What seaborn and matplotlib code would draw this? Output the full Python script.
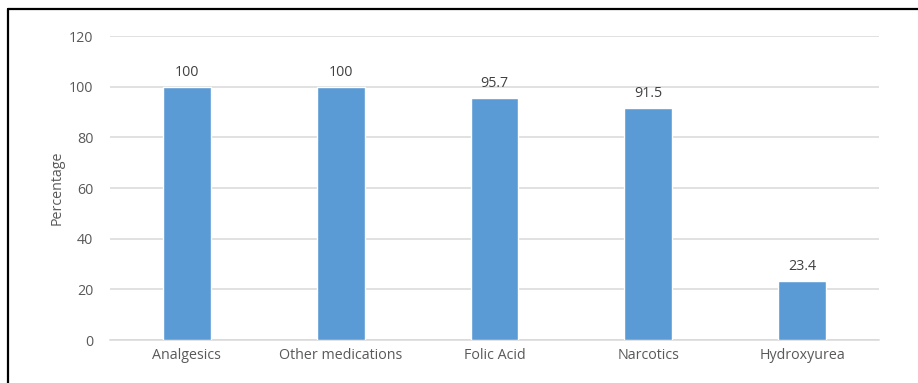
import matplotlib
matplotlib.use("Agg")
import matplotlib.pyplot as plt
import seaborn as sns
import pandas as pd
from matplotlib.lines import Line2D

categories = ["Analgesics", "Other medications", "Folic Acid", "Narcotics", "Hydroxyurea"]
percentages = [100, 100, 95.7, 91.5, 23.4]
value_labels = ["100", "100", "95.7", "91.5", "23.4"]
y_ticks = [0, 20, 40, 60, 80, 100, 120]

df = pd.DataFrame({"Medication": categories, "Percentage": percentages})

sns.set_theme(style="white")
plt.rcParams["font.family"] = ["Open Sans", "DejaVu Sans"]

W, H = 918, 383
fig = plt.figure(figsize=(W / 100, H / 100), dpi=100)
ax = fig.add_axes([110 / W, 43 / H, (879 - 110) / W, (340 - 36) / H])

sns.barplot(data=df, x="Medication", y="Percentage", color="#5B9BD5",
            saturation=1, width=0.31, ax=ax, zorder=3)

ax.set_ylim(0, 120)
ax.set_yticks(y_ticks)
ax.yaxis.grid(True, color="#D9D9D9", linewidth=1.1, zorder=0)
ax.xaxis.grid(False)
for s in ax.spines.values():
    s.set_visible(False)
ax.spines["bottom"].set_visible(True)
ax.spines["bottom"].set_color("#D9D9D9")
ax.spines["bottom"].set_linewidth(1.1)

fs = 10.3
ax.tick_params(axis="both", length=0, colors="#595959", labelsize=fs)
ax.tick_params(axis="y", pad=12)
ax.tick_params(axis="x", pad=6)
ax.set_xlabel("")
ax.set_ylabel("Percentage", color="#595959", fontsize=fs, labelpad=3)

for container in ax.containers:
    ax.bar_label(container, labels=value_labels, padding=5,
                 color="#404040", fontsize=fs)

# frame around the figure (top and left edges)
fig.add_artist(Line2D([8 / W, 8 / W], [0, 1 - 9 / H], transform=fig.transFigure,
                      color="black", linewidth=1.6))
fig.add_artist(Line2D([8 / W, 1], [1 - 9 / H, 1 - 9 / H], transform=fig.transFigure,
                      color="black", linewidth=1.6))

fig.savefig("out.png", dpi=100, facecolor="white")
